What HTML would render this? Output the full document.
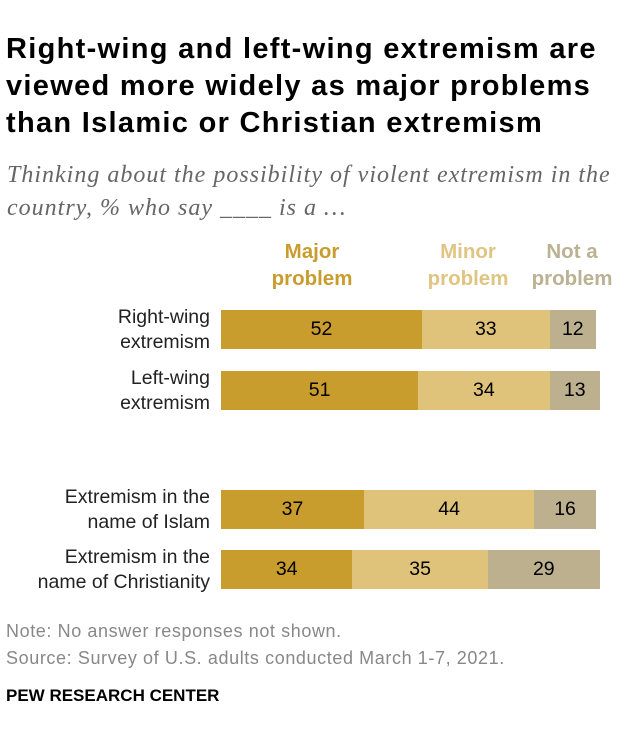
<!DOCTYPE html>
<html><head><meta charset="utf-8">
<style>
body{margin:0;background:#fff;width:620px;height:744px;overflow:hidden;font-family:"Liberation Sans",Arial,sans-serif;position:relative}
.t{position:absolute;left:6px;top:31px;font-size:29px;font-weight:bold;line-height:37px;color:#000;letter-spacing:1.3px;white-space:nowrap}
.s{position:absolute;left:7px;top:159px;font-family:"Liberation Serif",serif;font-style:italic;font-size:24px;line-height:33px;color:#666;letter-spacing:1.0px;white-space:nowrap}
.h{position:absolute;top:238px;font-weight:bold;font-size:20.5px;line-height:27px;text-align:center}
.lab{position:absolute;right:410px;text-align:right;font-size:19.5px;line-height:25px;color:#222}
.n{position:absolute;left:6px;font-size:18px;color:#888;letter-spacing:0.6px}
</style></head><body>
<div class="t">Right-wing and left-wing extremism are<br>viewed more widely as major problems<br>than Islamic or Christian extremism</div>
<div class="s">Thinking about the possibility of violent extremism in the<br>country, % who say ____ is a …</div>
<div class="h" style="left:262px;width:100px;color:#C99C2E">Major<br>problem</div>
<div class="h" style="left:418px;width:100px;color:#E0C582">Minor<br>problem</div>
<div class="h" style="left:522px;width:100px;color:#BBB193">Not a<br>problem</div>
<div id="chart"></div>
<div class="n" style="top:621px">Note: No answer responses not shown.</div>
<div class="n" style="top:648px">Source: Survey of U.S. adults conducted March 1-7, 2021.</div>
<div style="position:absolute;left:6px;top:686px;font-size:17px;font-weight:bold;color:#000">PEW RESEARCH CENTER</div>
<script>
const categories=["Right-wing|extremism","Left-wing|extremism","Extremism in the|name of Islam","Extremism in the|name of Christianity"];
const major=[52,51,37,34];
const minor=[33,34,44,35];
const notProb=[12,13,16,29];
const rowTops=[310,371,490,550];
const x0=221, scale=375/97, bh=39;
const colors=["#C99C2E","#DFC37A","#BCB08E"];
const c=document.getElementById('chart');
categories.forEach((cat,i)=>{
  const lab=document.createElement('div');
  lab.className='lab';
  lab.style.top=(rowTops[i]+bh/2-25)+'px';
  lab.innerHTML=cat.replace('|','<br>');
  
  
  c.appendChild(lab);
  let x=x0;
  [major[i],minor[i],notProb[i]].forEach((v,j)=>{
    const w=v*scale;
    const b=document.createElement('div');
    b.style.cssText=`position:absolute;left:${x}px;top:${rowTops[i]}px;width:${w}px;height:${bh}px;background:${colors[j]};display:flex;align-items:center;justify-content:center;font-size:19.5px;color:#000`;
    b.textContent=v;
    
    
    c.appendChild(b);
    x+=w;
  });
});
</script>
</body></html>
